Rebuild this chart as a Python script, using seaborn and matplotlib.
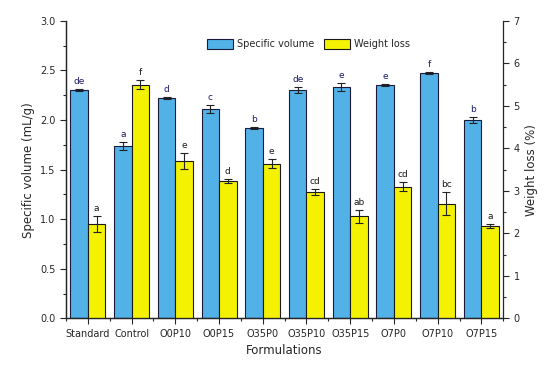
import pandas as pd
import matplotlib
matplotlib.use("Agg")
import matplotlib.pyplot as plt
import seaborn as sns
from matplotlib.ticker import MultipleLocator, FixedLocator

formulations = ['Standard', 'Control', 'O0P10', 'O0P15', 'O35P0',
                'O35P10', 'O35P15', 'O7P0', 'O7P10', 'O7P15']
specific_volume = [2.30, 1.74, 2.22, 2.11, 1.92, 2.30, 2.33, 2.35, 2.47, 2.00]
sv_err = [0.01, 0.04, 0.01, 0.04, 0.01, 0.03, 0.04, 0.01, 0.01, 0.03]
sv_letters = ['de', 'a', 'd', 'c', 'b', 'de', 'e', 'e', 'f', 'b']
weight_loss = [2.22, 5.50, 3.71, 3.24, 3.64, 2.97, 2.40, 3.10, 2.70, 2.17]
wl_err = [0.19, 0.10, 0.19, 0.05, 0.10, 0.07, 0.16, 0.10, 0.27, 0.05]
wl_letters = ['a', 'f', 'e', 'd', 'e', 'cd', 'ab', 'cd', 'bc', 'a']

series = ['Specific volume', 'Weight loss']
blue = '#52B2E8'
yellow = '#F4F200'

sv_df = pd.DataFrame({'Formulation': formulations, 'value': specific_volume,
                      'series': series[0]})
wl_df = pd.DataFrame({'Formulation': formulations, 'value': weight_loss,
                      'series': series[1]})

sns.set_style('ticks')
plt.rcParams['font.family'] = ['DejaVu Sans']

fig, ax = plt.subplots(figsize=(5.5, 3.66), dpi=100)
ax2 = ax.twinx()

sns.barplot(data=sv_df, x='Formulation', y='value', hue='series',
            hue_order=series, palette=[blue, yellow], order=formulations,
            dodge=True, saturation=1, width=0.8, edgecolor='#1a1a3a',
            linewidth=0.8, ax=ax, legend=False)
sns.barplot(data=wl_df, x='Formulation', y='value', hue='series',
            hue_order=series, palette=[blue, yellow], order=formulations,
            dodge=True, saturation=1, width=0.8, edgecolor='#1a1a1a',
            linewidth=0.8, ax=ax2, legend=False)

# error bars + significance letters
for axis, vals, errs, letters, lc in [(ax, specific_volume, sv_err, sv_letters, '#1a1a6a'),
                                       (ax2, weight_loss, wl_err, wl_letters, '#1a1a1a')]:
    bars = sorted([p for p in axis.patches if p.get_height() > 0], key=lambda p: p.get_x())
    off = 0.03 if axis is ax else 0.07
    for p, v, e, t in zip(bars, vals, errs, letters):
        xc = p.get_x() + p.get_width() / 2
        axis.errorbar(xc, v, yerr=e, fmt='none', ecolor='#222222',
                      elinewidth=0.8, capsize=3, capthick=0.8)
        axis.text(xc, v + e + off, t, ha='center', va='bottom',
                  fontsize=6.5, color=lc)

ax.set_xlim(-0.5, 9.5)
ax.set_ylim(0, 3.0)
ax2.set_ylim(0, 7)
ax.yaxis.set_major_locator(MultipleLocator(0.5))
ax.yaxis.set_minor_locator(MultipleLocator(0.25))
ax2.yaxis.set_major_locator(MultipleLocator(1))
ax2.yaxis.set_minor_locator(MultipleLocator(0.5))
ax.xaxis.set_minor_locator(FixedLocator([i + 0.5 for i in range(-1, 10)]))

ax.set_xlabel('Formulations', fontsize=8.5)
ax.set_ylabel('Specific volume (mL/g)', fontsize=8.5)
ax2.set_ylabel('Weight loss (%)', fontsize=8.5)

for a in (ax, ax2):
    a.tick_params(axis='both', which='major', labelsize=7, length=4, width=0.8)
    a.tick_params(axis='both', which='minor', length=2.5, width=0.8)
    a.spines['top'].set_visible(False)
    for s in a.spines.values():
        s.set_linewidth(0.9)
ax.spines['right'].set_visible(False)

handles = [plt.Rectangle((0, 0), 1, 1, facecolor=blue, edgecolor='#1a1a3a', linewidth=0.8),
           plt.Rectangle((0, 0), 1, 1, facecolor=yellow, edgecolor='#1a1a1a', linewidth=0.8)]
ax2.legend(handles, series, loc='upper center', bbox_to_anchor=(0.555, 0.97),
           ncol=2, frameon=False, fontsize=7, handlelength=2.7,
           handleheight=1.2, columnspacing=1.0, handletextpad=0.4)

fig.subplots_adjust(left=0.12, right=0.915, top=0.943, bottom=0.13)
fig.savefig('out.png', dpi=100)
